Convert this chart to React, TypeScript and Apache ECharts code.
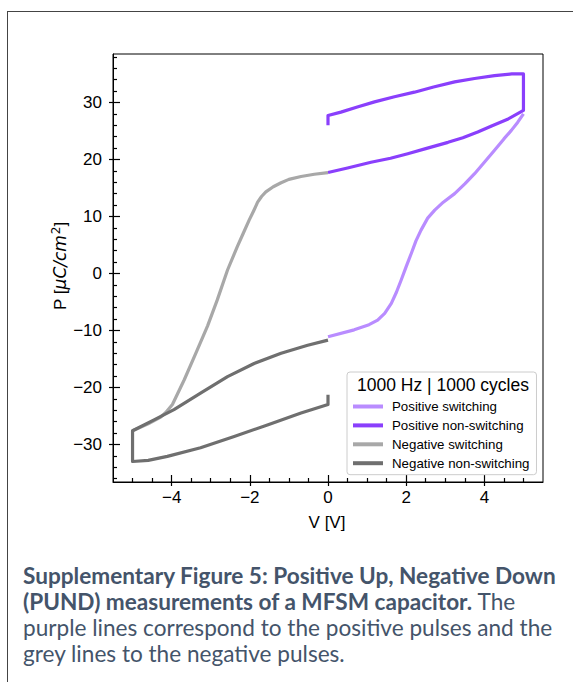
import React, { useEffect, useRef } from "react";
import * as echarts from "echarts";

// ---- Data ----
const posSwitchV = [0, 0.67, 1.05, 1.27, 1.45, 1.62, 1.75, 1.87, 2.0, 2.13, 2.25, 2.38, 2.55, 2.73, 2.95, 3.24, 3.5, 3.75, 4.0, 4.26, 4.5, 4.69, 4.85, 5.0];
const posSwitchP = [-11.1, -9.9, -9.0, -8.2, -7.0, -5.25, -3.3, -1.2, 1.2, 3.5, 5.7, 7.6, 9.7, 11.1, 12.5, 14.0, 15.7, 17.5, 19.5, 21.6, 23.6, 25.1, 26.5, 28.0];

const posNonSwitchV = [0, 0.5, 1.1, 1.6, 2.04, 2.5, 3.07, 3.45, 3.83, 4.2, 4.61, 5.0, 5.0, 4.7, 4.26, 3.75, 3.24, 2.7, 2.21, 1.7, 1.19, 0.75, 0.33, 0.0, 0.0];
const posNonSwitchP = [17.7, 18.5, 19.5, 20.2, 21.0, 21.9, 23.0, 23.8, 24.8, 25.9, 27.1, 28.6, 35.0, 35.0, 34.7, 34.2, 33.6, 32.7, 31.8, 31.0, 30.1, 29.2, 28.3, 27.7, 26.0];

const negSwitchV = [0, -0.35, -0.69, -1.0, -1.2, -1.4, -1.59, -1.7, -1.8, -1.9, -2.02, -2.17, -2.32, -2.57, -2.83, -3.08, -3.38, -3.68, -3.98, -4.15, -4.28, -4.6, -5.0];
const negSwitchP = [17.7, 17.4, 17.0, 16.5, 15.9, 15.2, 14.3, 13.5, 12.5, 11.0, 9.3, 7.0, 4.7, 0.6, -4.6, -9.2, -14.0, -18.7, -23.0, -24.4, -25.2, -26.4, -27.6];

const negNonSwitchV = [0, -0.52, -1.2, -1.89, -2.57, -3.26, -3.94, -4.45, -5.0, -5.0, -4.6, -4.11, -3.26, -2.4, -1.55, -0.69, 0, 0];
const negNonSwitchP = [-11.7, -12.6, -14.0, -15.8, -18.1, -21.0, -23.9, -25.7, -27.6, -33.0, -32.8, -32.1, -30.6, -28.6, -26.6, -24.5, -23.0, -21.3];

const seriesNames = ["Positive switching", "Positive non-switching", "Negative switching", "Negative non-switching"];
const seriesColors = ["#b98cff", "#8a3ffc", "#a8a8a8", "#6f6f6f"];

const xMajorTicks = [-4, -2, 0, 2, 4];
const xMinorTicks = [-5, -4.5, -3.5, -3, -2.5, -1.5, -1, -0.5, 0.5, 1, 1.5, 2.5, 3, 3.5, 4.5, 5];
const yMajorTicks = [-30, -20, -10, 0, 10, 20, 30];
const yMinorTicks = [-36, -34, -32, -28, -26, -24, -22, -18, -16, -14, -12, -8, -6, -4, -2, 2, 4, 6, 8, 12, 14, 16, 18, 22, 24, 26, 28, 32, 34, 36, 38];

const xRange = [-5.5, 5.5];
const yRange = [-36.6, 38.5];

const legendTitle = "1000 Hz | 1000 cycles";
const xAxisTitle = "V [V]";

const pairs = (xs: number[], ys: number[]) => xs.map((x, i) => [x, ys[i]]);
const fmtMinus = (v: number) => (v < 0 ? "\u2212" + Math.abs(v) : String(v));

export default function App() {
  const ref = useRef<HTMLDivElement>(null);
  useEffect(() => {
    if (!ref.current) return;
    const chart = echarts.init(ref.current, null, { renderer: "svg" });
    const font = "'Liberation Sans', Arial, sans-serif";
    const mathFont = "'DejaVu Sans', sans-serif";
    const capFont = "Lato, sans-serif";
    const capColor = "#44546a";
    const capSize = 22.6;
    const tickSize = 17;

    const mkX = (ticks: number[], inside: boolean, len: number, labels: boolean, line: boolean) => ({
      type: "value",
      min: xRange[0],
      max: xRange[1],
      position: "bottom",
      offset: 0,
      axisLine: { show: line, onZero: false, lineStyle: { color: "#000", width: 1 } },
      axisTick: { show: true, inside, length: len, customValues: ticks, lineStyle: { color: "#000", width: 1.2 } },
      axisLabel: labels
        ? { show: true, customValues: xMajorTicks, formatter: fmtMinus, margin: 7, fontFamily: font, fontSize: tickSize, color: "#000" }
        : { show: false },
      splitLine: { show: false },
    });
    const mkY = (ticks: number[], inside: boolean, len: number, labels: boolean, line: boolean) => ({
      type: "value",
      min: yRange[0],
      max: yRange[1],
      position: "left",
      offset: 0,
      axisLine: { show: line, onZero: false, lineStyle: { color: "#000", width: 1 } },
      axisTick: { show: true, inside, length: len, customValues: ticks, lineStyle: { color: "#000", width: 1.2 } },
      axisLabel: labels
        ? { show: true, customValues: yMajorTicks, formatter: fmtMinus, margin: 11, fontFamily: font, fontSize: tickSize, color: "#000" }
        : { show: false },
      splitLine: { show: false },
    });

    const datasets = [
      pairs(posSwitchV, posSwitchP),
      pairs(posNonSwitchV, posNonSwitchP),
      pairs(negSwitchV, negSwitchP),
      pairs(negNonSwitchV, negNonSwitchP),
    ];

    chart.setOption({
      animation: false,
      backgroundColor: "#fff",
      grid: {
        left: 113,
        top: 54,
        right: 30,
        bottom: 200,
        show: true,
        borderColor: "#000",
        borderWidth: 1,
        backgroundColor: "transparent",
      },
      xAxis: [
        mkX(xMajorTicks, true, 7, true, true),
        mkX(xMajorTicks, false, 4, false, false),
        mkX(xMinorTicks, true, 4, false, false),
      ],
      yAxis: [
        mkY(yMajorTicks, true, 7, true, true),
        mkY(yMajorTicks, false, 4, false, false),
        mkY(yMinorTicks, true, 4, false, false),
      ],
      legend: {
        show: true,
        orient: "vertical",
        left: 347,
        top: 372,
        padding: [27, 7, 4, 6],
        itemGap: 3.9,
        itemWidth: 30,
        itemHeight: 4,
        icon: "rect",
        borderColor: "#cccccc",
        borderWidth: 1,
        borderRadius: 3,
        backgroundColor: "rgba(255,255,255,0.85)",
        textStyle: { fontFamily: font, fontSize: 13.3, color: "#000", padding: [0, 0, 0, 4], lineHeight: 15 },
        data: seriesNames,
        selectedMode: false,
        z: 5,
      },
      series: datasets.map((d, i) => ({
        name: seriesNames[i],
        type: "line",
        xAxisIndex: 0,
        yAxisIndex: 0,
        data: d,
        showSymbol: false,
        symbol: "none",
        smooth: false,
        color: seriesColors[i],
        lineStyle: { color: seriesColors[i], width: 3.2, join: "round", cap: "butt" },
        z: 2,
      })),
      graphic: [
        { type: "line", shape: { x1: 7, y1: 11.5, x2: 573, y2: 11.5 }, style: { stroke: "#444", lineWidth: 1 }, z: 10 },
        { type: "line", shape: { x1: 7.5, y1: 11, x2: 7.5, y2: 682 }, style: { stroke: "#444", lineWidth: 1 }, z: 10 },
        {
          type: "text",
          x: 443,
          y: 385,
          z: 20,
          style: { text: legendTitle, fontFamily: font, fontSize: 17.5, fill: "#000", align: "center", verticalAlign: "middle" },
        },
        {
          type: "text",
          x: 327,
          y: 522,
          style: { text: xAxisTitle, fontFamily: font, fontSize: tickSize, fill: "#000", align: "center", verticalAlign: "middle" },
        },
        {
          type: "text",
          x: 60,
          y: 266,
          rotation: Math.PI / 2,
          style: {
            text: "{n|P [}{i|\u03bcC/cm}{s|2}{n|]}",
            align: "center",
            verticalAlign: "middle",
            rich: {
              n: { fontFamily: font, fontSize: tickSize, fill: "#000" },
              i: { fontFamily: mathFont, fontSize: tickSize, fontStyle: "italic", fill: "#000" },
              s: { fontFamily: mathFont, fontSize: 12, fill: "#000", verticalAlign: "top", padding: [0, 0, 9, 1] },
            },
          },
        },
        {
          type: "text",
          x: 23,
          y: 575,
          style: {
            text: "{b|Supplementary Figure 5: Positive Up, Negative Down}",
            verticalAlign: "middle",
            rich: { b: { fontFamily: capFont, fontSize: capSize, fontWeight: "bold", fill: capColor } },
          },
        },
        {
          type: "text",
          x: 23,
          y: 601,
          style: {
            text: "{b|(PUND) measurements of a MFSM capacitor.}{n| The}",
            verticalAlign: "middle",
            rich: {
              b: { fontFamily: capFont, fontSize: capSize, fontWeight: "bold", fill: capColor },
              n: { fontFamily: capFont, fontSize: capSize, fill: capColor },
            },
          },
        },
        {
          type: "text",
          x: 23,
          y: 627,
          style: { text: "purple lines correspond to the positive pulses and the", fontFamily: capFont, fontSize: capSize, fill: capColor, verticalAlign: "middle" },
        },
        {
          type: "text",
          x: 23,
          y: 653,
          style: { text: "grey lines to the negative pulses.", fontFamily: capFont, fontSize: capSize, fill: capColor, verticalAlign: "middle" },
        },
      ],
    });
    return () => chart.dispose();
  }, []);
  return <div ref={ref} style={{ position: "absolute", left: 0, top: 0, width: 573, height: 682 }} />;
}
